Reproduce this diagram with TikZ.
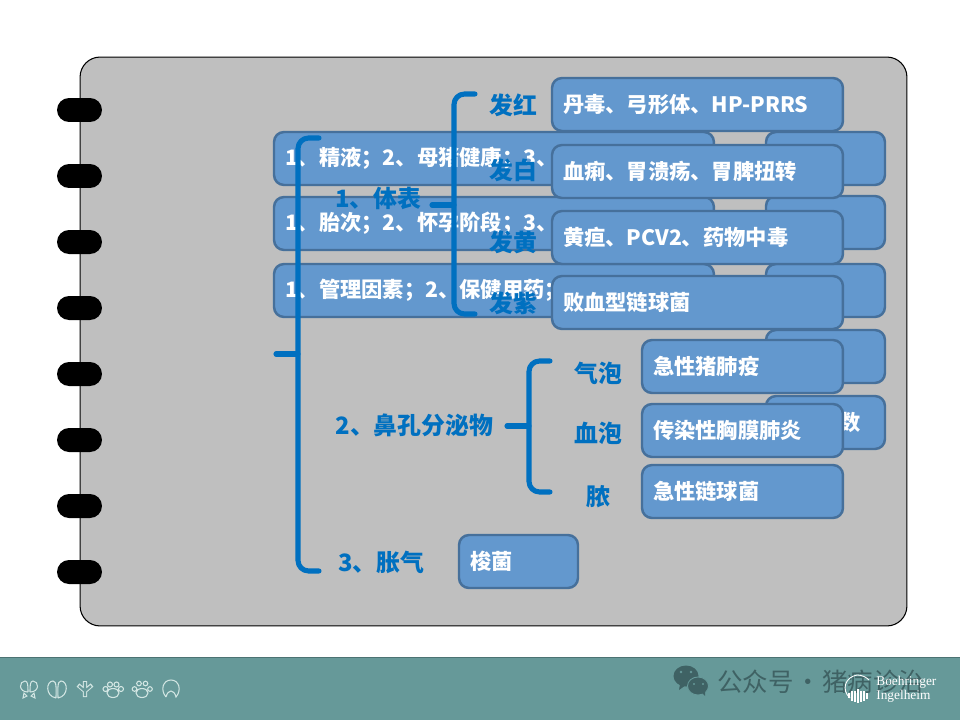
\documentclass[tikz,border=0pt]{standalone}
\usepackage{fontspec}
\setmainfont{Noto Sans CJK SC}
\newfontfamily\logofont{Liberation Serif}
\usetikzlibrary{arrows.meta,positioning}

\begin{document}
\begin{tikzpicture}[x=0.02cm,y=-0.02cm]
\tikzset{
  panel/.style={rectangle,draw=black,line width=0.6pt,fill=panelgray,rounded corners=0.4cm,minimum width=16.54cm,minimum height=11.38cm,inner sep=0pt},
  band/.style={rectangle,fill=bandteal,minimum width=19.2cm,minimum height=1.24cm,inner sep=0pt},
  ringnode/.style={rectangle,fill=black,rounded corners=0.24cm,minimum width=0.9cm,minimum height=0.48cm,inner sep=0pt},
  flatbox/.style={rectangle,draw=boxedge,line width=1.4pt,fill=boxblue,rounded corners=0.2cm,anchor=west,outer sep=0pt,minimum height=1.06cm,inner xsep=0.22cm,inner ysep=0pt,text width=#1,align=left,text=white,font=\fontsize{12.1}{14}\selectfont\bfseries},
  bluelabel/.style={inner sep=0pt,text=braceblue,font=\fontsize{13.6}{16}\selectfont\bfseries},
  bracket/.style={draw=braceblue,line width=2.9pt,line cap=round,line join=round,rounded corners=6pt},
  footline/.style={draw=footpale,line width=0.6pt}
}
\definecolor{panelgray}{HTML}{BFBFBF}
\definecolor{bandteal}{HTML}{669999}
\definecolor{boxblue}{HTML}{6398CE}
\definecolor{boxedge}{HTML}{46709B}
\definecolor{braceblue}{HTML}{0070C0}
\definecolor{footpale}{HTML}{D3E6E3}
\definecolor{markdark}{HTML}{3F6264}
\useasboundingbox (0,0) rectangle (960,720);
\node[band] (n_band) at (480,689) {};
\draw[draw=bandteal!75!black,line width=0.5pt] (n_band.north west) -- (n_band.north east);
\node[panel] (n_panel) at (493.5,341.5) {};
\node[ringnode] (n_ring1) at (79.5,110) {};
\node[ringnode] (n_ring2) at (79.5,176) {};
\node[ringnode] (n_ring3) at (79.5,242) {};
\node[ringnode] (n_ring4) at (79.5,308) {};
\node[ringnode] (n_ring5) at (79.5,374) {};
\node[ringnode] (n_ring6) at (79.5,440) {};
\node[ringnode] (n_ring7) at (79.5,506) {};
\node[ringnode] (n_ring8) at (79.5,572) {};
% boxes at the back
\node[flatbox=8.36cm] (n_semen) at (274,158.5) {1、精液；2、母猪健康；3、};
\node[flatbox=8.36cm] (n_parity) at (274,223.5) {1、胎次；2、怀孕阶段；3、};
\node[flatbox=8.36cm] (n_manage) at (274,290.5) {1、管理因素；2、保健用药；};
\node[flatbox=1.94cm] (n_back1) at (766,158.5) {};
\node[flatbox=1.94cm] (n_back2) at (766,222.5) {};
\node[flatbox=1.94cm] (n_back3) at (766,290.5) {};
\node[flatbox=1.94cm] (n_back4) at (766,356.5) {};
\node[flatbox=1.94cm,align=right] (n_back5) at (766,422.5) {数\hspace*{0.27cm}};
% boxes in front
\node[flatbox=5.38cm] (n_red) at (552,104.5) {丹毒、弓形体、HP-PRRS};
\node[flatbox=5.38cm] (n_white) at (552,171.5) {血痢、胃溃疡、胃脾扭转};
\node[flatbox=5.38cm] (n_yellow) at (552,237.5) {黄疸、PCV2、药物中毒};
\node[flatbox=5.38cm] (n_purple) at (552,302.5) {败血型链球菌};
\node[flatbox=3.58cm] (n_bubble) at (642,366.5) {急性猪肺疫};
\node[flatbox=3.58cm] (n_blood) at (642,430.5) {传染性胸膜肺炎};
\node[flatbox=3.58cm] (n_pus) at (642,491.5) {急性链球菌};
\node[flatbox=1.94cm] (n_clostr) at (459,561.5) {梭菌};
% labels
\node[bluelabel] (n_body) at (378.5,198) {1、体表};
\node[bluelabel] (n_nose) at (414.5,425) {2、鼻孔分泌物};
\node[bluelabel] (n_gas) at (381.5,562) {3、胀气};
\node[bluelabel] (n_lred) at (513,105) {发红};
\node[bluelabel] (n_lwhite) at (513,170) {发白};
\node[bluelabel] (n_lyellow) at (513,242) {发黄};
\node[bluelabel] (n_lpurple) at (513,303) {发紫};
\node[bluelabel] (n_lbubble) at (598,373) {气泡};
\node[bluelabel] (n_lblood) at (598,433) {血泡};
\node[bluelabel] (n_lpus) at (598,497) {脓};
% brackets
\coordinate (c_out_top) at (319,138);
\coordinate (c_out_mid) at (298,354);
\coordinate (c_out_bot) at (319,571);
\coordinate (c_out_tick) at (276,354);
\coordinate (c_body_top) at (475,94);
\coordinate (c_body_mid) at (454,205);
\coordinate (c_body_bot) at (475,314);
\coordinate (c_body_tick) at (432,205);
\coordinate (c_nose_top) at (550,361);
\coordinate (c_nose_mid) at (529,426);
\coordinate (c_nose_bot) at (550,492);
\coordinate (c_nose_tick) at (507,426);
\draw[bracket] (c_out_top) -| (c_out_mid) |- (c_out_bot);
\draw[bracket] (c_out_tick) -- (c_out_mid);
\draw[bracket] (c_body_top) -| (c_body_mid) |- (c_body_bot);
\draw[bracket] (c_body_tick) -- (c_body_mid);
\draw[bracket] (c_nose_top) -| (c_nose_mid) |- (c_nose_bot);
\draw[bracket] (c_nose_tick) -- (c_nose_mid);
% footprints in the band
\draw[footline] (28,692) .. controls (18,692) and (19,681) .. (25,681) .. controls (28,681) and (28,686) .. (28,692);
\draw[footline] (30,692) .. controls (40,692) and (39,681) .. (33,681) .. controls (30,681) and (30,686) .. (30,692);
\draw[footline] (24,693) -- (27,696) -- (23,698) -- cycle (34,693) -- (31,696) -- (35,698) -- cycle;
\draw[footline] (56,698) .. controls (45,696) and (46,681) .. (53,681) .. controls (57,681) and (56,690) .. (56,698);
\draw[footline] (58,698) .. controls (69,696) and (68,681) .. (61,681) .. controls (57,681) and (58,690) .. (58,698);
\draw[footline,line width=2.4pt] (85,697) -- (85,681) (85,691) -- (78,685) (85,691) -- (92,685);
\draw[bandteal,line width=1.2pt] (85,696) -- (85,682) (85,691) -- (79,686) (85,691) -- (91,686);
\draw[footline] (113,693) ellipse (6 and 4.5) (105.5,689) circle (2.5) (110,684.5) circle (2.5) (116.5,684.5) circle (2.5) (121,689) circle (2.5);
\draw[footline] (142,693) ellipse (6 and 4.5) (134.5,689) circle (2.3) (139,683.5) circle (2.3) (145.5,683.5) circle (2.3) (150,689) circle (2.3);
\draw[footline] (166,697) .. controls (160,690) and (163,680) .. (171,680) .. controls (179,680) and (182,690) .. (176,697) .. controls (174,689) and (168,689) .. (166,697);
% watermark and logo
\fill[markdark] (686,676) ellipse (12.5 and 10.5);
\fill[markdark] (680,684) -- (679,690) -- (686,685) -- cycle;
\draw[bandteal,fill=markdark,line width=0.5pt] (698,686) ellipse (10.5 and 9);
\fill[markdark] (702,693) -- (705,696) -- (705,691) -- cycle;
\fill[bandteal] (681,672) circle (1.4) (691,672) circle (1.4) (694,684) circle (1.2) (703,684) circle (1.2);
\node[anchor=west,inner sep=0pt,text=markdark,font=\fontsize{14.5}{16}\selectfont] (n_mark) at (717,682) {公众号\hspace{0.03cm}·\hspace{0.03cm}猪病诊治};
\draw[white,line width=0.5pt] (850,698) .. controls (841,690) and (845,677) .. (857,675) .. controls (862,675) and (866,677) .. (869,680);
\draw[white,line width=0.8pt] (849,693) -- (849,698) (852,691) -- (852,701) (855,691) -- (855,702) (858,689) -- (858,703) (861,691) -- (861,702) (864,691) -- (864,701) (867,693) -- (867,699);
\node[anchor=west,inner sep=0pt,align=left,text=white,font=\logofont\fontsize{7.6}{8}\selectfont] (n_logo) at (876,689) {Boehringer\\Ingelheim};
\end{tikzpicture}
\end{document}
